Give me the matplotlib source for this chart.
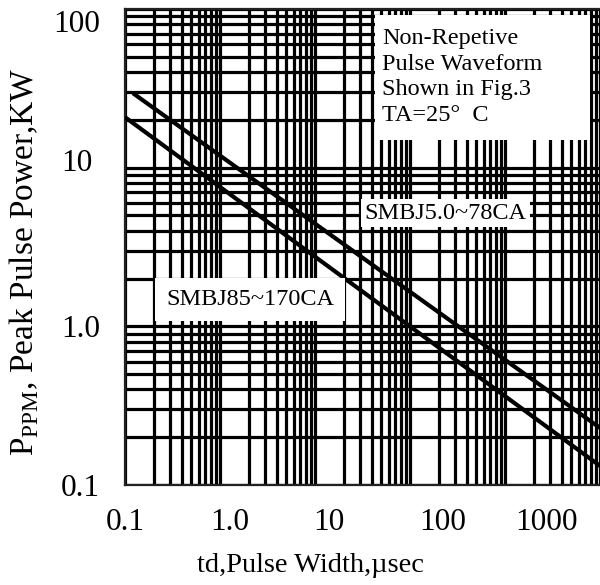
import numpy as np
import matplotlib
matplotlib.use("Agg")
import matplotlib.pyplot as plt
from matplotlib.ticker import LogLocator, NullFormatter
from matplotlib.patches import Rectangle

plt.rcParams['font.family'] = ['Liberation Serif', 'DejaVu Serif']
plt.rcParams['mathtext.fontset'] = 'custom'
plt.rcParams['mathtext.rm'] = 'Liberation Serif'

# 曲線の端点
width_5v = [0.121, 10000]
power_5v = [29.5, 0.229]
width_85v = [0.1, 10000]
power_85v = [20.8, 0.132]

# 目盛ラベル（元図では少しずれて配置されている）
x_ticks = [0.1, 1, 10, 100, 1000]
x_tick_labels = ['0.1', '1.0', '10', '100', '1000']
x_label_shift = [0, 10, 14, 33, 41]      # px
y_ticks = [0.1, 1, 10, 100]
y_tick_labels = ['0.1', '1.0', '10', '100']
y_label_shift = [-3, -3, 4, -16]         # px
y_label_right = [-25, -25, -32, -25]     # px

PX = 0.72  # 1 px -> pt (dpi=100)

fig = plt.figure(figsize=(6, 5.85), dpi=100)
ax = fig.add_axes([125 / 600, 100 / 585, 475 / 600, 476 / 585])
ax.set_xscale('log')
ax.set_yscale('log')
ax.set_xlim(0.1, 1e4)
ax.set_ylim(0.1, 100)

for axis in (ax.xaxis, ax.yaxis):
    axis.set_major_locator(LogLocator(base=10, numticks=12))
    axis.set_minor_locator(LogLocator(base=10, subs=np.arange(2, 10), numticks=12))
    axis.set_minor_formatter(NullFormatter())
ax.grid(True, which='both', color='black', lw=2.3)
ax.tick_params(which='both', length=0, labelbottom=False, labelleft=False)
for side in ['left', 'top', 'bottom']:
    ax.spines[side].set_linewidth(1.6)
    ax.spines[side].set_color('#222222')
ax.spines['right'].set_visible(False)

ax.plot(width_5v, power_5v, color='black', lw=3, solid_capstyle='butt', zorder=3)
ax.plot(width_85v, power_85v, color='black', lw=3, solid_capstyle='butt', zorder=3)

# 目盛ラベル
for v, t, dx in zip(x_ticks, x_tick_labels, x_label_shift):
    ax.annotate(t, xy=(v, 0), xycoords=ax.get_xaxis_transform(),
                xytext=(dx * PX, -37 * PX), textcoords='offset points',
                ha='center', va='center', fontsize=22.5, annotation_clip=False)
for v, t, dy, dx in zip(y_ticks, y_tick_labels, y_label_shift, y_label_right):
    ax.annotate(t, xy=(0, v), xycoords=ax.get_yaxis_transform(),
                xytext=(dx * PX, dy * PX), textcoords='offset points',
                ha='right', va='center', fontsize=22.5, annotation_clip=False)

# 注記
ax.add_patch(Rectangle((0.526, 0.725), 0.453, 0.262, transform=ax.transAxes,
                       facecolor='white', edgecolor='none', zorder=4))
ax.text(0.541, 0.857, 'Non-Repetive\nPulse Waveform\nShown in Fig.3\nTA=25°  C',
        transform=ax.transAxes, ha='left', va='center', fontsize=17.5,
        linespacing=1.3, zorder=5)

ax.text(0.674, 0.571, 'SMBJ5.0~78CA', transform=ax.transAxes,
        ha='center', va='center', fontsize=17.5, zorder=5,
        bbox=dict(boxstyle='square,pad=0.15', facecolor='white', edgecolor='none'))
ax.text(0.263, 0.389, 'SMBJ85~170CA', transform=ax.transAxes,
        ha='center', va='center', fontsize=17.5, zorder=5,
        bbox=dict(boxstyle='square,pad=0.45', facecolor='white', edgecolor='none'))

fig.text(310 / 600, 1 - 565 / 585, 'td,Pulse Width,µsec',
         ha='center', va='center', fontsize=20.5)
fig.text(24 / 600, 1 - 262 / 585, r'P$_{\mathrm{PPM}}$, Peak Pulse Power,KW',
         rotation=90, ha='center', va='center', fontsize=24)

fig.savefig('out.png', dpi=100, facecolor='white')
